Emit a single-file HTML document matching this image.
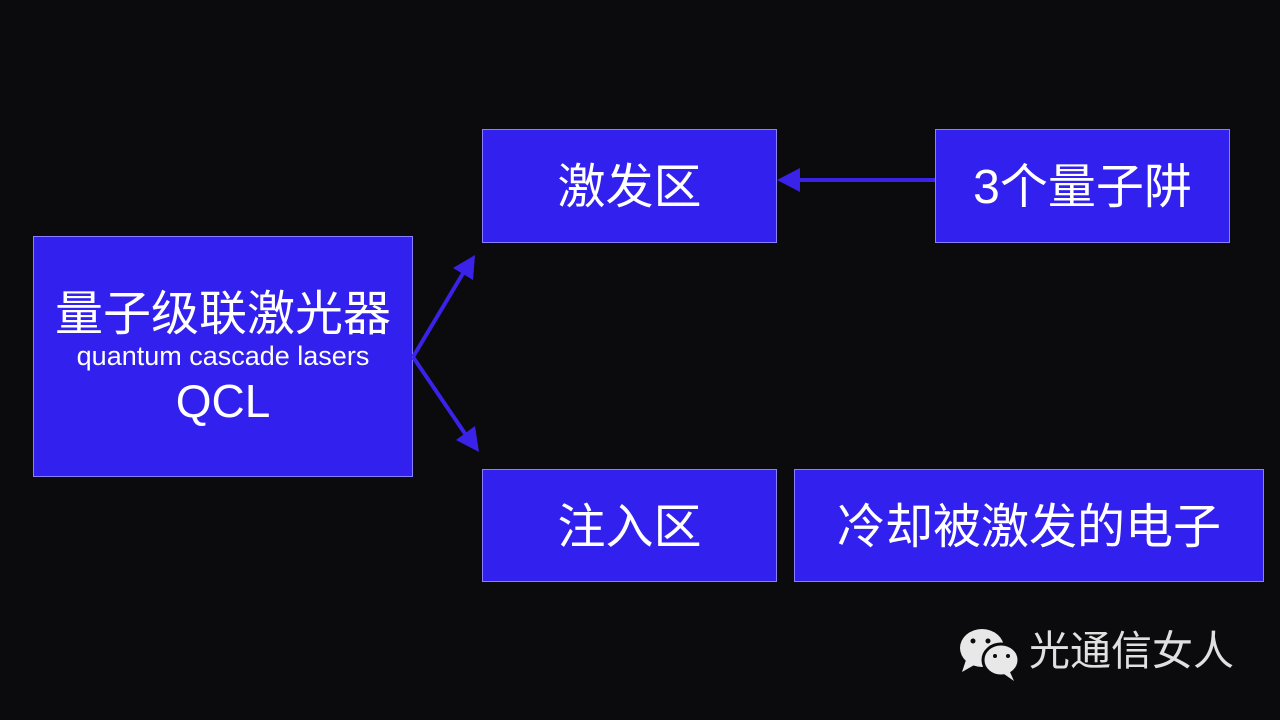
<!DOCTYPE html>
<html><head><meta charset="utf-8"><style>
body{margin:0;width:1280px;height:720px;background:#0b0a0c;position:relative;overflow:hidden;font-family:"Liberation Sans","Noto Sans CJK SC",sans-serif;}
.b{position:absolute;background:#3120ee;border:1px solid #8a80ff;box-sizing:border-box;color:#fff;display:flex;align-items:center;justify-content:center;font-size:48px;padding-bottom:8px;}
</style></head><body>
<div class="b" style="left:33px;top:236px;width:380px;height:241px;flex-direction:column;padding-bottom:0;padding-top:6px;">
<div style="font-size:48px;line-height:54px;">量子级联激光器</div>
<div style="font-size:27px;line-height:28px;">quantum cascade lasers</div>
<div style="font-size:46px;line-height:62px;">QCL</div>
</div>
<div class="b" style="left:482px;top:129px;width:295px;height:114px;">激发区</div>
<div class="b" style="left:935px;top:129px;width:295px;height:114px;">3个量子阱</div>
<div class="b" style="left:482px;top:469px;width:295px;height:113px;">注入区</div>
<div class="b" style="left:794px;top:469px;width:470px;height:113px;">冷却被激发的电子</div>
<svg width="1280" height="720" style="position:absolute;left:0;top:0">
<g stroke="#3a22e8" stroke-width="4" fill="#3a22e8">
<line x1="413" y1="357" x2="465" y2="270"/>
<line x1="413" y1="357" x2="468" y2="438"/>
<line x1="935" y1="180" x2="795" y2="180"/>
</g>
<g fill="#3a22e8">
<polygon points="475,255 473,280 453,268"/>
<polygon points="479,452 456,440 475,426"/>
<polygon points="777,180 800,168 800,192"/>
</g>
<g fill="#e8e8e8">
<ellipse cx="982" cy="648" rx="22" ry="19"/>
<polygon points="966,660 962,672 976,664"/>
<ellipse cx="1001" cy="660" rx="18" ry="16" stroke="#0b0a0c" stroke-width="3"/>
<polygon points="1010,672 1014,681 1004,674"/>
</g>
<g fill="#0b0a0c"><circle cx="973" cy="641" r="2.5"/><circle cx="988" cy="641" r="2.5"/><circle cx="995" cy="656" r="2"/><circle cx="1008" cy="656" r="2"/></g>
</svg>
<div style="position:absolute;left:1029px;top:628px;font-size:41px;color:#e0e0e0;line-height:46px;">光通信女人</div>
</body></html>
